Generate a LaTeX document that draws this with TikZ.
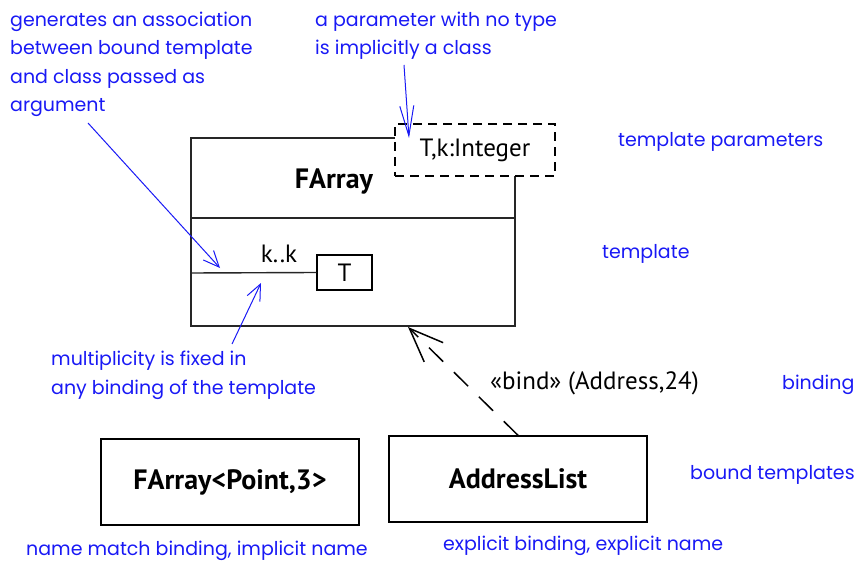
\documentclass[tikz,border=0pt]{standalone}
\usepackage{fontspec}
\setmainfont{PT Sans}
\newfontfamily\notefont{Poppins}
\usetikzlibrary{arrows.meta}
\definecolor{noteblue}{RGB}{25,25,245}
\tikzset{
  note/.style={text=noteblue, font=\notefont\fontsize{19}{28.3}\selectfont, align=left, anchor=north west, inner sep=0pt},
  lbl/.style={font=\fontsize{25}{29}\selectfont, inner sep=0pt},
  boldlbl/.style={font=\bfseries\fontsize{28}{32}\selectfont, inner sep=0pt},
  umlline/.style={line width=1.4pt, black!85},
  notearrow/.style={noteblue, line width=1pt, -{Straight Barb[length=16pt, width=14pt, line width=1pt]}},
  bindarrow/.style={line width=1.5pt, dash pattern=on 20pt off 15pt, -{Straight Barb[length=34pt, width=27pt, line width=1.5pt]}},
}
\begin{document}
\begin{tikzpicture}[x=1pt, y=-1pt]
\useasboundingbox (0,0) rectangle (861,561);
% template class FArray
\coordinate (fa-nw) at (191,138);
\coordinate (fa-ne) at (515,138);
\coordinate (fa-sw) at (191,326);
\coordinate (fa-se) at (515,326);
\draw[umlline] (395,138) -- (fa-nw) -- (fa-sw) -- (fa-se) -- (515,176);
\draw[umlline] (191,218) -- (515,218);
\node[boldlbl] (fa) at (334,182) {FArray};
% template parameter box
\node[lbl, draw, dashed, dash pattern=on 9pt off 6pt, line width=1.4pt, minimum width=160pt, minimum height=52pt, fill=white] (tp) at (475,150) {T,k:Integer};
% association to T
\node[lbl, draw, line width=1.4pt, minimum width=55pt, minimum height=35pt] (tb) at (344.5,272.5) {T};
\coordinate (assoc-l) at (191,273);
\draw[umlline] (assoc-l) -- (tb.west);
\node[lbl] (kk) at (279,254) {k..k};
% bound templates
\node[boldlbl, draw, line width=1.4pt, minimum width=258pt, minimum height=86pt] (fp) at (230,482) {FArray<Point,3>};
\node[boldlbl, draw, line width=1.4pt, minimum width=258pt, minimum height=86pt] (al) at (518,479) {AddressList};
% binding
\coordinate (bind-tip) at (408,327);
\draw[bindarrow] (al.north) -- (bind-tip);
\node[lbl, anchor=west] (bindlbl) at (490,383) {«bind» (Address,24)};
% notes
\node[note] (n1) at (10,12) {generates an association\\between bound template\\and class passed as\\argument};
\node[note] (n2) at (315,12) {a parameter with no type\\is implicitly a class};
\node[note] (n3) at (618,132) {template parameters};
\node[note] (n4) at (602,244) {template};
\node[note] (n5) at (51,351) {multiplicity is fixed in\\any binding of the template};
\node[note] (n6) at (782,375) {binding};
\node[note] (n7) at (690,465) {bound templates};
\node[note] (n8) at (26,541) {name match binding, implicit name};
\node[note] (n9) at (443,536) {explicit binding, explicit name};
% note arrows
\coordinate (a1s) at (88,123);
\coordinate (a1e) at (220,268);
\draw[notearrow] (a1s) -- (a1e);
\coordinate (a2s) at (404,65);
\coordinate (a2e) at (409,138);
\draw[notearrow, -{Straight Barb[length=30pt, width=14pt, line width=1pt]}] (a2s) -- (a2e);
\coordinate (a3s) at (232,344);
\coordinate (a3e) at (261,283);
\draw[notearrow] (a3s) -- (a3e);
\end{tikzpicture}
\end{document}
